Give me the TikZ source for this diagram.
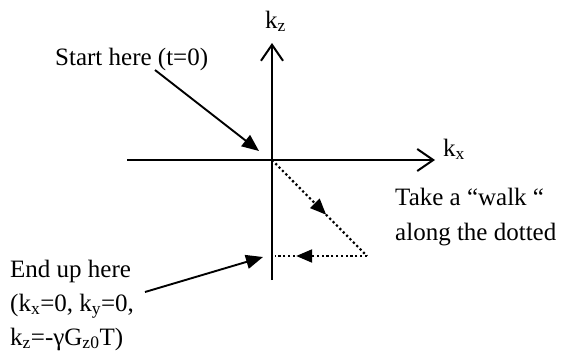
\documentclass[tikz,border=0pt]{standalone}
\usepackage{fontspec}
\setmainfont{Liberation Serif}
\usetikzlibrary{arrows.meta,decorations.markings}
\begin{document}
\begin{tikzpicture}[x=1pt,y=-1pt,
  axis/.style={line width=2pt,-{Straight Barb[length=16pt,width=22pt,line width=2pt]}},
  lbl/.style={inner sep=0pt,anchor=base west,font=\fontsize{25}{35}\selectfont},
  pointer/.style={line width=1.9pt,-{Triangle[length=17pt,width=14pt]}},
  walk/.style={line width=2.2pt,dash pattern=on 2.2pt off 2.6pt,line cap=butt},
  walkarrow/.style={postaction={decorate,decoration={markings,
     mark=at position #1 with {\arrow{Triangle[length=16pt,width=13pt]}}}}}
]
\useasboundingbox (0,0) rectangle (565,356);
% axes
\coordinate (O) at (272,160);
\coordinate (zbot) at (272,280);
\coordinate (ztop) at (272,43);
\coordinate (xleft) at (127,160);
\coordinate (xright) at (435,160);
\draw[axis] (zbot) -- (ztop);
\draw[axis] (xleft) -- (xright);
\node[lbl] (kz) at (265,28) {k\textsubscript{z}};
\node[lbl] (kx) at (443,156) {k\textsubscript{x}};
% walk
\coordinate (C) at (367,256);
\coordinate (E) at (275,256);
\draw[walk,walkarrow=0.57] (O) -- (C);
\draw[walk,walkarrow=0.77] (C) -- (E);
% start label
\node[lbl] (start) at (55,65) {Start here (t=0)};
\coordinate (s0) at (155,70);
\coordinate (s1) at (259,151);
\draw[pointer] (s0) -- (s1);
% walk label
\node[lbl] (walk1) at (395,205) {Take a “walk “};
\node[lbl] (walk2) at (395,240) {along the dotted};
% end label
\node[lbl] (end1) at (10,277) {End up here};
\node[lbl] (end2) at (10,311) {(k\textsubscript{x}=0, k\textsubscript{y}=0,};
\node[lbl] (end3) at (10,345) {k\textsubscript{z}=-γG\textsubscript{z0}T)};
\coordinate (e0) at (145,292);
\coordinate (e1) at (263,257);
\draw[pointer] (e0) -- (e1);
\end{tikzpicture}
\end{document}
